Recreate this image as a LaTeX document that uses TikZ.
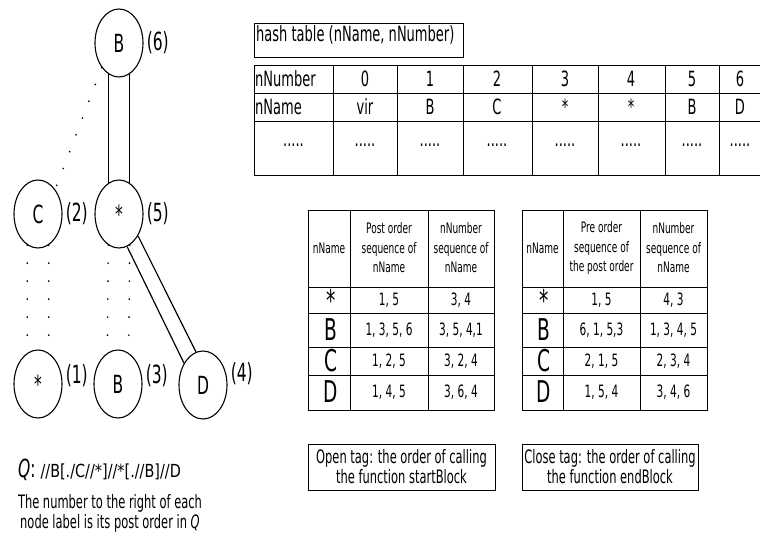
\documentclass[tikz,border=0pt]{standalone}
\usepackage{fontspec}
\setmainfont{DejaVu Sans}[FakeStretch=0.62]
\newfontfamily\qfont{DejaVu Sans}[FakeStretch=0.8]
\usetikzlibrary{shapes.geometric}
\newcommand{\comma}{,}
\newcommand{\nodefont}{\fontsize{25}{28}\selectfont}
\newcommand{\tabfont}{\fontsize{21}{23}\selectfont}
\newcommand{\headfont}{\fontsize{14.5}{19.5}\selectfont}
\newcommand{\numfont}{\fontsize{17}{19}\selectfont}
\newcommand{\letfont}{\fontsize{30}{32}\selectfont}
\newcommand{\notefont}{\fontsize{18.5}{20}\selectfont}
\tikzset{
  treenode/.style={draw,ellipse,line width=1.1pt,minimum width=48pt,minimum height=68pt,inner sep=0pt,font=\nodefont},
  postnum/.style={anchor=west,inner sep=1pt,font=\nodefont},
  childedge/.style={line width=1.9pt,line cap=round,dash pattern=on 0pt off 18pt},
  descedge/.style={line width=1.2pt},
  grid/.style={line width=1pt},
  cell/.style={inner sep=0pt,font=\tabfont},
  head/.style={inner sep=0pt,align=center,font=\headfont},
  num/.style={inner sep=0pt,font=\numfont},
  notebox/.style={draw,line width=0.9pt,align=center,inner sep=2pt,font=\notefont}
}

\begin{document}
\begin{tikzpicture}[x=1pt,y=-1pt]
  \useasboundingbox (0,0) rectangle (760,536);

  % query tree
  \foreach \n/\t/\x/\y/\p/\r in {b6/B/119/43/6/0, c2/C/38/214/2/0, s5/*/119/214/5/0,
      s1/*/38/384/1/8, b3/B/118/384/3/8, d4/D/203/385/4/11}
  {
    \node[treenode] (\n) at (\x,\y) {\t};
    \node[postnum] (p\n) at ([xshift=2pt,yshift=\r pt]\n.east) {(\p)};
  }
  \draw[descedge] (b6.-108) -- (s5.108);
  \draw[descedge] (b6.-72) -- (s5.72);
  \draw[descedge] (s5.-76) -- (d4.131);
  \draw[descedge] (s5.-49) -- (d4.102);
  \draw[childedge] (b6.-125) -- (c2.55);
  \draw[childedge] (c2.-109) -- (s1.109);
  \draw[childedge] (c2.-71) -- (s1.71);
  \draw[childedge] (s5.-109) -- (b3.109);
  \draw[childedge] (s5.-71) -- (b3.71);

  \node[anchor=west,inner sep=0pt] (query) at (18,470)
    {\fontsize{25}{27}\selectfont\textit{Q}:\ \qfont\fontsize{18}{20}\selectfont //B[./C//*]//*[.//B]//D};
  \node[align=center,inner sep=0pt,font=\notefont] (caption) at (110,513)
    {The number to the right of each\\node label is its post order in \textit{Q}};

  % hash table
  \node[draw,line width=0.9pt,minimum width=209pt,minimum height=34pt,anchor=north west] (hashbox) at (254,23) {};
  \node[anchor=north west,inner sep=2pt,font=\tabfont] (hashcap) at (hashbox.north west) {hash table (nName, nNumber)};
  \draw[grid] (254,65) rectangle (764,175);
  \foreach \y in {93,121} \draw[grid] (254,\y) -- (764,\y);
  \foreach \x in {333,397,463,532,598,665,719} \draw[grid] (\x,65) -- (\x,175);
  \node[cell,anchor=west] (hnum) at (255,79) {nNumber};
  \node[cell,anchor=west] (hname) at (255,107) {nName};
  \node[cell] (hdots) at (293.5,145) {.....};
  \foreach \x/\k/\v [count=\i] in {365/0/vir, 430/1/B, 497/2/C, 565/3/*, 631/4/*, 692/5/B, 740/6/D}
  {
    \node[cell] (k\i) at (\x,79) {\k};
    \node[cell] (v\i) at (\x,107) {\v};
    \node[cell] (d\i) at (\x,145) {.....};
  }

  % post order table
  \draw[grid] (308,210) rectangle (494,410);
  \foreach \y in {287,313,347,375} \draw[grid] (308,\y) -- (494,\y);
  \foreach \x in {350,428} \draw[grid] (\x,210) -- (\x,410);
  \node[head] (posth1) at (329,248) {nName};
  \node[head] (posth2) at (389,248) {Post order\\sequence of\\nName};
  \node[head] (posth3) at (461,248) {nNumber\\sequence of\\nName};
  \foreach \n/\a/\b/\y [count=\i] in {*/1\comma{} 5/3\comma{} 4/300,
      B/1\comma{} 3\comma{} 5\comma{} 6/3\comma{} 5\comma{} 4\comma1/330,
      C/1\comma{} 2\comma{} 5/3\comma{} 2\comma{} 4/361,
      D/1\comma{} 4\comma{} 5/3\comma{} 6\comma{} 4/392}
  {
    \node[inner sep=0pt,font=\letfont] (postn\i) at (331,\y) {\n};
    \node[num] (posta\i) at (389,\y) {\a};
    \node[num] (postb\i) at (461,\y) {\b};
  }

  % pre order table
  \draw[grid] (522,210) rectangle (707,410);
  \foreach \y in {287,313,347,375} \draw[grid] (522,\y) -- (707,\y);
  \foreach \x in {563,640} \draw[grid] (\x,210) -- (\x,410);
  \node[head] (preh1) at (542.5,248) {nName};
  \node[head] (preh2) at (601.5,248) {Pre order\\sequence of\\the post order};
  \node[head] (preh3) at (673.5,248) {nNumber\\sequence of\\nName};
  \foreach \n/\a/\b/\y [count=\i] in {*/1\comma{} 5/4\comma{} 3/300,
      B/6\comma{} 1\comma{} 5\comma3/1\comma{} 3\comma{} 4\comma{} 5/330,
      C/2\comma{} 1\comma{} 5/2\comma{} 3\comma{} 4/361,
      D/1\comma{} 5\comma{} 4/3\comma{} 4\comma{} 6/392}
  {
    \node[inner sep=0pt,font=\letfont] (pren\i) at (544,\y) {\n};
    \node[num] (prea\i) at (601.5,\y) {\a};
    \node[num] (preb\i) at (673.5,\y) {\b};
  }

  % notes
  \node[notebox,minimum width=187pt,minimum height=46pt] (opentag) at (401.5,467)
    {Open tag: the order of calling\\the function startBlock};
  \node[notebox,minimum width=176pt,minimum height=46pt] (closetag) at (610,467)
    {Close tag: the order of calling\\the function endBlock};
\end{tikzpicture}
\end{document}
